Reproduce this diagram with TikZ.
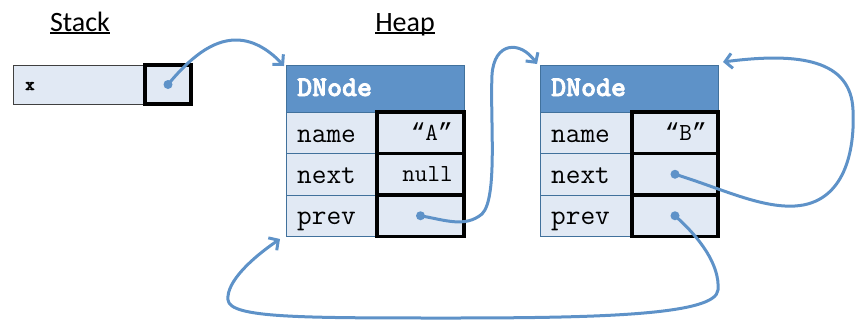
\documentclass[tikz,border=0pt]{standalone}
\usepackage{fontspec}
\setmainfont{Carlito}
\newfontfamily\hdrfont[FakeBold=2.5]{lmmonolt10-bold.otf}
\newfontfamily\quotefont{Liberation Mono}
\usetikzlibrary{arrows.meta}
\definecolor{hdrblue}{RGB}{94,146,200}
\definecolor{hdredge}{RGB}{65,113,156}
\definecolor{cellfill}{RGB}{225,233,244}
\definecolor{linkblue}{RGB}{94,146,200}
% heading text with a firm underline
\newcommand\headlined[1]{\setbox0\hbox{#1}\rlap{\copy0}\rule[-2.8pt]{\wd0}{1.6pt}}
% string literal with slanted typewriter quotes
\newcommand\strlit[1]{{\quotefont “}#1{\quotefont ”}}
\begin{document}
\begin{tikzpicture}[x=1pt,y=-1pt,
  box/.style={rectangle, inner sep=0pt, outer sep=0pt, anchor=north west},
  hdr/.style={box, fill=hdrblue, draw=hdredge, line width=1pt},
  fieldcell/.style={box, fill=cellfill, draw=hdredge, line width=1pt},
  refcell/.style={box, fill=cellfill, draw=black, line width=3.5pt},
  varcell/.style={box, fill=cellfill, draw=black!75, line width=1pt},
  fieldtxt/.style={anchor=base west, inner sep=0pt, font=\ttfamily\fontsize{28.5}{28.5}\selectfont},
  valtxt/.style={anchor=base east, inner sep=0pt, font=\ttfamily\fontsize{24.5}{24.5}\selectfont},
  hdrtxt/.style={anchor=base west, inner sep=0pt, text=white, font=\hdrfont\fontsize{28.5}{28.5}\selectfont},
  title/.style={anchor=base, inner sep=0pt, font=\fontsize{28}{28}\selectfont},
  dot/.style={circle, fill=linkblue, inner sep=0pt, minimum size=9pt},
  link/.style={draw=linkblue, line width=3pt, line cap=round,
    -{Straight Barb[length=7pt,width=15pt,line width=3pt]}}
]
\useasboundingbox (0,0) rectangle (855,322);

% section titles
\node[title] (stacktitle) at (80,31) {\headlined{Stack}};
\node[title] (heaptitle) at (405,31) {\headlined{Heap}};

% stack variable x
\node[varcell, minimum width=132pt, minimum height=39pt] (xvar) at (13,65) {};
\node[refcell, minimum width=46pt, minimum height=39pt] (xref) at (145,65) {};
\node[anchor=base west, inner sep=0pt, font=\hdrfont\fontsize{18}{18}\selectfont] (xname) at (25,90) {x};
\node[dot] (xdot) at (xref.center) {};

% DNode "A"
\node[hdr, minimum width=178pt, minimum height=47pt] (Ahead) at (286,65) {};
\node[fieldcell, minimum width=91pt, minimum height=41.5pt] (Anamel) at (286,112) {};
\node[fieldcell, minimum width=91pt, minimum height=41.5pt] (Anextl) at (286,153.5) {};
\node[fieldcell, minimum width=91pt, minimum height=41.5pt] (Aprevl) at (286,195) {};
\node[refcell, minimum width=87pt, minimum height=41.5pt] (Anamev) at (377,112) {};
\node[refcell, minimum width=87pt, minimum height=41.5pt] (Anextv) at (377,153.5) {};
\node[refcell, minimum width=87pt, minimum height=41.5pt] (Aprevv) at (377,195) {};
\node[hdrtxt] (Atitle) at (297,96) {DNode};
\node[fieldtxt] (Anamet) at (297,142) {name};
\node[fieldtxt] (Anextt) at (297,183) {next};
\node[fieldtxt] (Aprevt) at (297,224) {prev};
\node[valtxt] (Anameval) at (453,140) {\strlit{A}};
\node[valtxt] (Anextval) at (453,181) {null};
\node[dot] (Aprevdot) at (Aprevv.center) {};

% DNode "B"
\node[hdr, minimum width=178pt, minimum height=47pt] (Bhead) at (540,65) {};
\node[fieldcell, minimum width=92pt, minimum height=41.5pt] (Bnamel) at (540,112) {};
\node[fieldcell, minimum width=92pt, minimum height=41.5pt] (Bnextl) at (540,153.5) {};
\node[fieldcell, minimum width=92pt, minimum height=41.5pt] (Bprevl) at (540,195) {};
\node[refcell, minimum width=86pt, minimum height=41.5pt] (Bnamev) at (632,112) {};
\node[refcell, minimum width=86pt, minimum height=41.5pt] (Bnextv) at (632,153.5) {};
\node[refcell, minimum width=86pt, minimum height=41.5pt] (Bprevv) at (632,195) {};
\node[hdrtxt] (Btitle) at (551,96) {DNode};
\node[fieldtxt] (Bnamet) at (551,142) {name};
\node[fieldtxt] (Bnextt) at (551,183) {next};
\node[fieldtxt] (Bprevt) at (551,224) {prev};
\node[valtxt] (Bnameval) at (707,140) {\strlit{B}};
\node[dot] (Bnextdot) at (Bnextv.center) {};
\node[dot] (Bprevdot) at (Bprevv.center) {};

% arrow tips beside the node corners
\coordinate (toA) at (284,66);
\coordinate (toB) at (537,64);
\coordinate (toBback) at (723,62);
\coordinate (toAback) at (280,239);

% references
\draw[link] (xdot.center) .. controls (190,58) and (212,40) .. (236,40)
  .. controls (256,40) and (272,53) .. (toA);
\draw[link] (Aprevdot.center) .. controls (445,220) and (465,228) .. (482,214)
  .. controls (498,198) and (490,120) .. (492,75)
  .. controls (494,42) and (520,40) .. (toB);
\draw[link] (Bnextdot.center) .. controls (720,188) and (760,208) .. (795,206)
  .. controls (845,203) and (855,150) .. (853,110)
  .. controls (851,60) and (800,52) .. (toBback);
\draw[link] (Bprevdot.center) .. controls (700,238) and (720,265) .. (718,290)
  .. controls (716,315) and (600,318) .. (450,318)
  .. controls (300,318) and (230,318) .. (228,300)
  .. controls (226,282) and (252,258) .. (toAback);
\end{tikzpicture}
\end{document}
